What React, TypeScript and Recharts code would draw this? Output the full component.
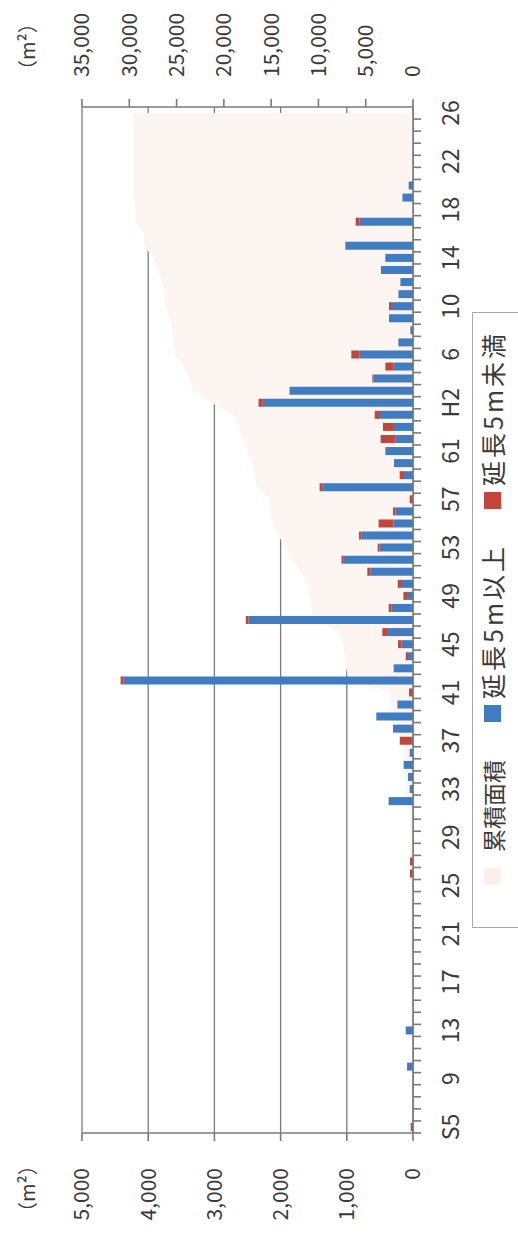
import { Area, Bar, CartesianGrid, ComposedChart, XAxis, YAxis } from "recharts"

// 年度（S5 = 1930 … H26 = 2014）
const categories = [
  "S5", "S6", "S7", "S8", "S9", "S10", "S11", "S12", "S13", "S14",
  "S15", "S16", "S17", "S18", "S19", "S20", "S21", "S22", "S23", "S24",
  "S25", "S26", "S27", "S28", "S29", "S30", "S31", "S32", "S33", "S34",
  "S35", "S36", "S37", "S38", "S39", "S40", "S41", "S42", "S43", "S44",
  "S45", "S46", "S47", "S48", "S49", "S50", "S51", "S52", "S53", "S54",
  "S55", "S56", "S57", "S58", "S59", "S60", "S61", "S62", "S63", "H1",
  "H2", "H3", "H4", "H5", "H6", "H7", "H8", "H9", "H10", "H11",
  "H12", "H13", "H14", "H15", "H16", "H17", "H18", "H19", "H20", "H21",
  "H22", "H23", "H24", "H25", "H26",
]

// labels shown every 4 years
const tickLabels = [
  "S5", "9", "13", "17", "21", "25", "29", "33", "37", "41", "45",
  "49", "53", "57", "61", "H2", "6", "10", "14", "18", "22", "26",
]

// 延長5m以上 (m²)
const over5m = [
  0, 0, 0, 0, 0, 90, 0, 0, 110, 0,
  0, 0, 0, 0, 0, 0, 0, 0, 0, 0,
  0, 0, 0, 0, 0, 0, 0, 368, 50, 75,
  141, 50, 30, 302, 554, 236, 0, 4377, 292, 75,
  176, 393, 2486, 327, 90, 166, 645, 1045, 504, 776,
  295, 267, 0, 1371, 136, 287, 418, 262, 302, 514,
  2269, 1865, 594, 292, 806, 221, 40, 363, 318, 220,
  190, 484, 418, 1023, 0, 806, 0, 160, 65, 0,
  0, 0, 0, 0, 0,
]

// 延長5m未満 (m²)
const under5m = [
  35, 0, 0, 0, 0, 0, 0, 0, 0, 0,
  0, 0, 0, 0, 0, 0, 0, 0, 0, 0,
  0, 45, 45, 0, 0, 0, 0, 0, 0, 0,
  0, 0, 170, 0, 0, 0, 60, 40, 0, 35,
  50, 70, 40, 40, 55, 65, 45, 35, 30, 40,
  225, 35, 50, 40, 65, 0, 0, 227, 151, 65,
  65, 0, 20, 126, 126, 0, 0, 0, 45, 0,
  0, 0, 0, 0, 0, 60, 0, 0, 0, 0,
  0, 0, 0, 0, 0,
]

// 累積面積 (m², right axis)
const cumulative = [
  35, 35, 35, 35, 35, 125, 125, 125, 235, 235,
  235, 235, 235, 235, 235, 235, 235, 235, 235, 235,
  235, 280, 325, 325, 325, 325, 325, 693, 743, 818,
  959, 1009, 1209, 1511, 2065, 2301, 2361, 6778, 7070, 7180,
  7406, 7869, 10395, 10762, 10907, 11138, 11828, 12908, 13442, 14258,
  14778, 15080, 15130, 16541, 16742, 17029, 17447, 17936, 18389, 18968,
  21302, 23167, 23781, 24199, 25131, 25352, 25392, 25755, 26118, 26338,
  26528, 27012, 27430, 28453, 28453, 29319, 29319, 29479, 29544, 29544,
  29544, 29544, 29544, 29544, 29544,
]

const leftTicks = [0, 1000, 2000, 3000, 4000, 5000]
const rightTicks = [0, 5000, 10000, 15000, 20000, 25000, 30000, 35000]

const data = categories.map((cat, i) => ({
  cat,
  over5m: over5m[i],
  under5m: under5m[i],
  cumulative: cumulative[i],
}))

const labelMap: Record<string, string> = Object.fromEntries(
  tickLabels.map((t, k) => [categories[k * 4], t])
)

const W = 1240
const H = 518
const AXIS_W = 107
const BAND = (W - 2 * AXIS_W) / categories.length
const FONT = "'Noto Sans CJK JP', 'Noto Sans', sans-serif"
const AXIS = "#7a7a7a"
const TEXT = "#3a3a3a"
const BLUE = "#3f7cc2"
const RED = "#c1473d"
const PINK = "#fdf5f2"

const fmt = (v: number) => v.toLocaleString("en-US")

function Legend() {
  const text = { position: "absolute" as const, fontSize: 23, lineHeight: "28px", color: TEXT, whiteSpace: "nowrap" as const }
  const sw = (left: number, color: string) => (
    <div style={{ position: "absolute", left, top: 11, width: 17, height: 17, background: color }} />
  )
  return (
    <div
      style={{
        position: "absolute",
        left: 312,
        top: 472,
        width: 616,
        height: 80,
        border: "1.5px solid #a8a8a8",
        background: "#fff",
        boxSizing: "border-box",
      }}
    >
      {sw(42, "#fdf0eb")}
      <div style={{ ...text, top: 6, left: 75 }}>累積面積</div>
      {sw(205, BLUE)}
      <div style={{ ...text, top: 5, left: 228, fontSize: 25, letterSpacing: 3 }}>延長5m以上</div>
      {sw(418, RED)}
      <div style={{ ...text, top: 5, left: 441, fontSize: 25, letterSpacing: 3 }}>延長5m未満</div>
    </div>
  )
}

export default function App() {
  return (
    <div style={{ position: "absolute", left: 0, top: 0, width: 518, height: 1240, overflow: "hidden", background: "#fff" }}>
      <div
        style={{
          position: "absolute",
          left: 0,
          top: 0,
          width: W,
          height: H,
          transformOrigin: "0 0",
          transform: `translate(0px, ${W}px) rotate(-90deg)`,
          fontFamily: FONT,
        }}
      >
        <ComposedChart width={W} height={H} data={data} margin={{ top: 82, right: 0, bottom: 0, left: 0 }} barSize={8}>
          <CartesianGrid yAxisId="left" vertical={false} stroke={AXIS} strokeWidth={1.3} />
          {/* tick marks shifted half a band so they fall between years, Excel style */}
          <XAxis
            dataKey="cat"
            interval={0}
            height={105}
            tickSize={8}
            tickMargin={22}
            tickFormatter={(v: string) => labelMap[v] ?? ""}
            axisLine={{ stroke: AXIS, strokeWidth: 1.6 }}
            tickLine={{ stroke: AXIS, strokeWidth: 1.6, transform: `translate(${-BAND / 2}, 0)` }}
            tick={{ fontSize: 23, fill: TEXT, fontFamily: FONT }}
          />
          <YAxis
            yAxisId="left"
            width={AXIS_W}
            domain={[0, 5000]}
            ticks={leftTicks}
            tickFormatter={fmt}
            tickSize={8}
            tickMargin={27}
            axisLine={{ stroke: AXIS, strokeWidth: 1.6 }}
            tickLine={{ stroke: AXIS, strokeWidth: 1.6 }}
            tick={{ fontSize: 21, fill: TEXT, fontFamily: FONT }}
          />
          <YAxis
            yAxisId="right"
            orientation="right"
            width={AXIS_W}
            domain={[0, 35000]}
            ticks={rightTicks}
            tickFormatter={fmt}
            tickSize={8}
            tickMargin={22}
            axisLine={{ stroke: AXIS, strokeWidth: 1.6 }}
            tickLine={{ stroke: AXIS, strokeWidth: 1.6 }}
            tick={{ fontSize: 21, fill: TEXT, fontFamily: FONT, textAnchor: "start" }}
          />
          <Area
            yAxisId="right"
            dataKey="cumulative"
            type="linear"
            fill={PINK}
            fillOpacity={1}
            stroke="none"
            isAnimationActive={false}
          />
          <Bar yAxisId="left" dataKey="over5m" stackId="a" fill={BLUE} isAnimationActive={false} />
          <Bar yAxisId="left" dataKey="under5m" stackId="a" fill={RED} isAnimationActive={false} />
        </ComposedChart>
        <div style={{ position: "absolute", left: 18, top: 12, fontSize: 20, color: TEXT }}>（m²）</div>
        <div style={{ position: "absolute", left: 1160, top: 12, fontSize: 20, color: TEXT }}>（m²）</div>
        <Legend />
      </div>
    </div>
  )
}
